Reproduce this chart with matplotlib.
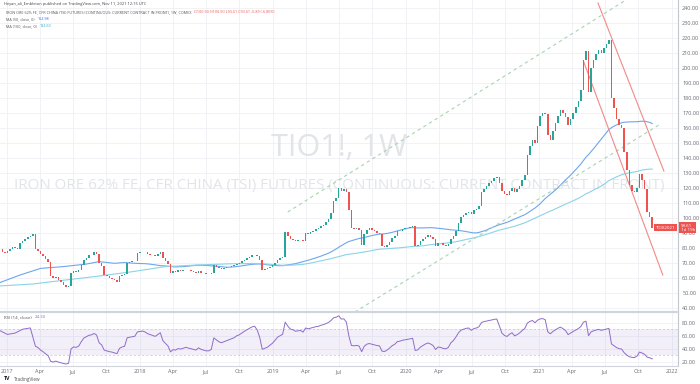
import numpy as np
import pandas as pd
import matplotlib
matplotlib.use("Agg")
import matplotlib.pyplot as plt
import matplotlib.dates as mdates

plt.rcParams['font.family'] = ['Open Sans', 'DejaVu Sans']

# ---------------- data (weekly closes) ----------------
first_week = "2016-12-12"
close_2016 = [79, 77, 76.5]
close_2017 = [78, 79.5, 80.5, 80, 79, 83, 84.5, 86, 87.5, 88, 89.5, 79, 78,
              76, 74.5, 72.5, 70.5, 61.5, 60, 60.5, 58.5, 57, 55.5, 54.2, 54.5,
              63, 64.5, 64, 65, 68.5, 72, 73.5, 75, 75.5, 77, 76, 70, 68, 62,
              61, 60, 59.5, 58.5, 57.5, 61, 62, 62.5, 70, 70.5, 71, 71.5, 76.4]
close_2018 = [77, 77.5, 77, 76, 75.5, 75, 74.5, 76, 77.5, 73, 71, 69, 63,
              64.5, 64, 65, 64.5, 65, 65.5, 65, 64.5, 64, 63.5, 64.5, 63.5, 63,
              62.5, 62.5, 63, 68.5, 67.5, 66.5, 66, 66.5, 67, 67.5, 68, 68.5,
              69.5, 70, 71, 72, 73, 74, 75, 75.5, 74.5, 72, 65.5, 66, 66.5,
              67.5, 68.5]
close_2019 = [70, 72, 73, 74, 90.5, 88, 86, 85.5, 84.5, 85, 85.5, 84.5, 90,
              89.5, 90.5, 91.5, 92.5, 93, 94.5, 95.5, 97, 99, 103, 111, 113,
              120, 118, 119, 117, 105.5, 93, 92.5, 93, 92, 82, 89, 92, 93, 92,
              91, 90, 89.5, 81, 80.5, 82, 84, 86.5, 88, 91, 91.5, 92.5, 93]
close_2020 = [93.5, 94, 94.5, 81.5, 82, 84.5, 86, 87.5, 88.5, 87.5, 86, 81.5,
              83.5, 83, 82, 81.5, 82.5, 86, 88, 91.5, 96.5, 100.5, 102, 103.5,
              104, 102.5, 105, 106, 108, 117, 119.5, 121, 123, 124.5, 126.5,
              127.5, 123.5, 118, 116, 115, 118, 120, 117.5, 119, 121.5, 125,
              128.5, 142, 148, 152, 150, 161]
close_2021 = [168, 170, 169, 155, 152, 158, 163, 168, 172, 170, 167.5, 162,
              166, 170, 174, 178, 185, 205, 211, 184, 200, 205, 209, 212, 210,
              213, 216, 218.5, 180, 173, 166, 162, 160, 144, 132, 122, 118,
              117, 120, 129, 125, 119, 104, 100.5, 93.61]

# indicator values before a full window exists
ma50_lead_week = [0, 8, 16, 25, 34, 39, 45]
ma50_lead_val = [56.9, 62.0, 66.4, 67.6, 69.3, 70.9, 69.8]
ma100_lead_week = [0, 13, 26, 39, 52, 65, 78, 91]
ma100_lead_val = [54.7, 56.0, 58.7, 61.3, 64.2, 67.6, 68.7, 69.5]
rsi_lead_week = [0, 3, 6, 9, 12]
rsi_lead_val = [68.0, 62.0, 64.0, 70.0, 72.0]

# drawn trend lines: (date, price) anchor pairs
upper_dash = [("2019-02-11", 104.0), ("2021-07-06", 237.3)]
lower_dash = [("2019-08-14", 37.3), ("2021-12-03", 163.0)]
red_upper = [("2021-06-12", 243.3), ("2021-12-10", 131.3)]
red_lower = [("2021-05-04", 204.0), ("2021-12-07", 62.0)]

# ---------------- derived ----------------
close = pd.Series(close_2016 + close_2017 + close_2018 + close_2019 +
                  close_2020 + close_2021, dtype=float)
dates = pd.date_range(first_week, periods=len(close), freq="W-MON")
xd = mdates.date2num(dates)
opn = close.shift(1).fillna(close.iloc[0])

ma50 = close.rolling(50).mean()
ma100 = close.rolling(100).mean()

delta = close.diff().fillna(0)
gain = delta.clip(lower=0).ewm(alpha=1/14, adjust=True).mean()
loss = (-delta.clip(upper=0)).ewm(alpha=1/14, adjust=True).mean()
rsi = 100 - 100 / (1 + gain / loss.replace(0, np.nan))

# ---------------- figure ----------------
W, H = 700, 384
fig = plt.figure(figsize=(W/100, H/100), dpi=100)
fig.patch.set_facecolor("white")
axw = 678
ax = fig.add_axes([0, 1-312/H, axw/W, 312/H])
axr = fig.add_axes([0, 1-366/H, axw/W, 54/H], sharex=ax)

x_left = mdates.date2num(pd.Timestamp("2017-01-01")) - 7/133*365.25
x_right = x_left + axw/133*365.25
ax.set_xlim(x_left, x_right)
ax.set_ylim(37.33, 245.33)
axr.set_ylim(13.4, 96.5)

grid_c = "#EEF0F5"
months = pd.date_range("2017-01-01", "2022-01-01", freq="QS")
mx = mdates.date2num(months)
mlabels = [str(d.year) if d.month == 1 else d.strftime("%b") for d in months]
for a in (ax, axr):
    for v in mx:
        a.axvline(v, color=grid_c, lw=0.6, zorder=0)
for p in range(40, 250, 10):
    ax.axhline(p, color=grid_c, lw=0.6, zorder=0)
for p in (20, 40, 60, 80):
    axr.axhline(p, color=grid_c, lw=0.6, zorder=0)

# candles
up_c, dn_c = "#26A69A", "#EF5350"
body = (close - opn).values
h = np.where(np.abs(body) < 0.45, np.where(body >= 0, 0.45, -0.45), body)
cols = [up_c if c >= o else dn_c for o, c in zip(opn, close)]
ax.bar(xd, h, bottom=opn.values, width=4.2, color=cols, linewidth=0, zorder=3)

# moving averages
ma50_x = list(xd[ma50_lead_week]) + list(xd[49:])
ma50_y = ma50_lead_val + list(ma50.values[49:])
ma100_x = list(xd[ma100_lead_week]) + list(xd[99:])
ma100_y = ma100_lead_val + list(ma100.values[99:])
ax.plot(ma50_x, ma50_y, color="#6EA6EE", lw=0.8, zorder=2)
ax.plot(ma100_x, ma100_y, color="#8AD3E8", lw=0.8, zorder=2)

def seg(pair):
    (d0, p0), (d1, p1) = pair
    return [mdates.date2num(pd.Timestamp(d0)), mdates.date2num(pd.Timestamp(d1))], [p0, p1]

def ray(pair, until):
    (d0, p0), (d1, p1) = pair
    t0 = mdates.date2num(pd.Timestamp(d0)); t1 = mdates.date2num(pd.Timestamp(d1))
    t2 = mdates.date2num(pd.Timestamp(until))
    return [t0, t2], [p0, p0 + (p1 - p0) * (t2 - t0) / (t1 - t0)]

xs, ys = ray(upper_dash, "2021-10-01")
ax.plot(xs, ys, color="#A9D3B0", lw=0.8, ls=(0, (3, 3)), zorder=2)
xs, ys = seg(lower_dash)
ax.plot(xs, ys, color="#A9D3B0", lw=0.8, ls=(0, (3, 3)), zorder=2)
xs, ys = seg(red_upper)
ax.plot(xs, ys, color="#F08A87", lw=0.8, zorder=2)
xs, ys = seg(red_lower)
ax.plot(xs, ys, color="#F08A87", lw=0.8, zorder=2)

# watermark
ax.text(0.5, 1-148/312, "TIO1!, 1W", transform=ax.transAxes, ha="center",
        va="center", fontsize=22, color="#E3E4E8", zorder=1)
ax.text(0.5, 1-185/312,
        "IRON ORE 62% FE, CFR CHINA (TSI) FUTURES (CONTINUOUS: CURRENT CONTRACT IN FRONT)",
        transform=ax.transAxes, ha="center", va="center", fontsize=10.9,
        color="#E3E4E8", zorder=1)

# price axis
ax.yaxis.tick_right()
ax.set_yticks(range(40, 250, 10))
ax.set_yticklabels([f"{p:.2f}" for p in range(40, 250, 10)])
ax.tick_params(axis="y", length=0, pad=3, labelsize=4.0, colors="#6A6D78")
ax.tick_params(axis="x", length=0, labelbottom=False)
for s in ax.spines.values():
    s.set_visible(False)
ax.spines["right"].set_visible(True)
ax.spines["right"].set_color("#C4C7CE")
ax.spines["right"].set_linewidth(0.8)

# last price labels
last = close.iloc[-1]
ax.text(1.004, last, f"{last:.2f}\n1d 19h", transform=ax.get_yaxis_transform(),
        ha="left", va="center", fontsize=3.2, color="white", linespacing=1.05,
        bbox=dict(boxstyle="square,pad=0.3", fc="#EF5350", ec="none"),
        clip_on=False, zorder=6)
ax.text(0.996, last, "TIOX2021", transform=ax.get_yaxis_transform(),
        ha="right", va="center", fontsize=3.2, color="white",
        bbox=dict(boxstyle="square,pad=0.3", fc="#EF5350", ec="none"), zorder=6)

# RSI pane
axr.axhspan(30, 70, color="#7E57C2", alpha=0.09, lw=0, zorder=0)
axr.axhline(70, color="#CBBDE6", lw=0.5, ls=(0, (3, 3)))
axr.axhline(30, color="#CBBDE6", lw=0.5, ls=(0, (3, 3)))
rsi_x = list(xd[rsi_lead_week]) + list(xd[14:])
rsi_y = rsi_lead_val + list(rsi.values[14:])
axr.plot(rsi_x, rsi_y, color="#8E6CC8", lw=0.7, zorder=3)
axr.yaxis.tick_right()
axr.set_yticks([20, 40, 60, 80])
axr.set_yticklabels(["20.00", "40.00", "60.00", "80.00"])
axr.tick_params(axis="y", length=0, pad=3, labelsize=4.0, colors="#6A6D78")
axr.set_xticks(mx)
axr.set_xticklabels(mlabels)
axr.tick_params(axis="x", length=0, pad=2.5, labelsize=4.0, colors="#6A6D78")
for s in axr.spines.values():
    s.set_visible(False)
axr.spines["right"].set_visible(True)
axr.spines["right"].set_color("#C4C7CE")
axr.spines["right"].set_linewidth(0.8)
axr.spines["top"].set_visible(True)
axr.spines["top"].set_color("#D1D4DC")
axr.spines["top"].set_linewidth(1.6)
axr.spines["bottom"].set_visible(True)
axr.spines["bottom"].set_color("#D1D4DC")
axr.spines["bottom"].set_linewidth(0.8)

renderer = fig.canvas.get_renderer()

def chain(x_px, y_px, parts, size):
    """Write text parts one after another on one line (pixel coords)."""
    x = x_px
    for txt, col in parts:
        t = fig.text(x/W, 1-y_px/H, txt, fontsize=size, color=col, va="center")
        bb = t.get_window_extent(renderer=renderer)
        x += bb.width + 3

# RSI legend
chain(4, 317, [("RSI (14, close)", "#555555"), (f"{rsi.iloc[-1]:.2f}", "#8E6CC8")], 3.2)

# header
o_last = opn.iloc[-1]
chg = last - o_last
chain(4, 4, [("Heyan_ali_Embleton published on TradingView.com, Nov 11, 2021 12:15 UTC", "#444444")], 2.9)
chain(6, 12, [("IRON ORE 62% FE, CFR CHINA (TSI) FUTURES (CONTINUOUS: CURRENT CONTRACT IN FRONT), 1W, COMEX", "#555555"),
              (f"O{o_last:.2f} H{o_last:.2f} L{last:.2f} C{last:.2f} {chg:.2f} ({chg/o_last*100:.2f}%)", "#EF5350")], 2.7)
chain(6, 19, [("MA (50, close, 0)", "#555555"), (f"{ma50.iloc[-1]:.2f}", "#2962FF")], 2.7)
chain(6, 26, [("MA (100, close, 0)", "#555555"), (f"{ma100.iloc[-1]:.2f}", "#26A6C8")], 2.7)

# TradingView logo
chain(4, 379, [("TV", "#131722")], 3.8)
fig.texts[-1].set_fontweight("bold")
fig.text(14/W, 1-379/H, "TradingView", fontsize=3.3, color="#555555", va="center")

fig.savefig("out.png", dpi=100, facecolor="white")
